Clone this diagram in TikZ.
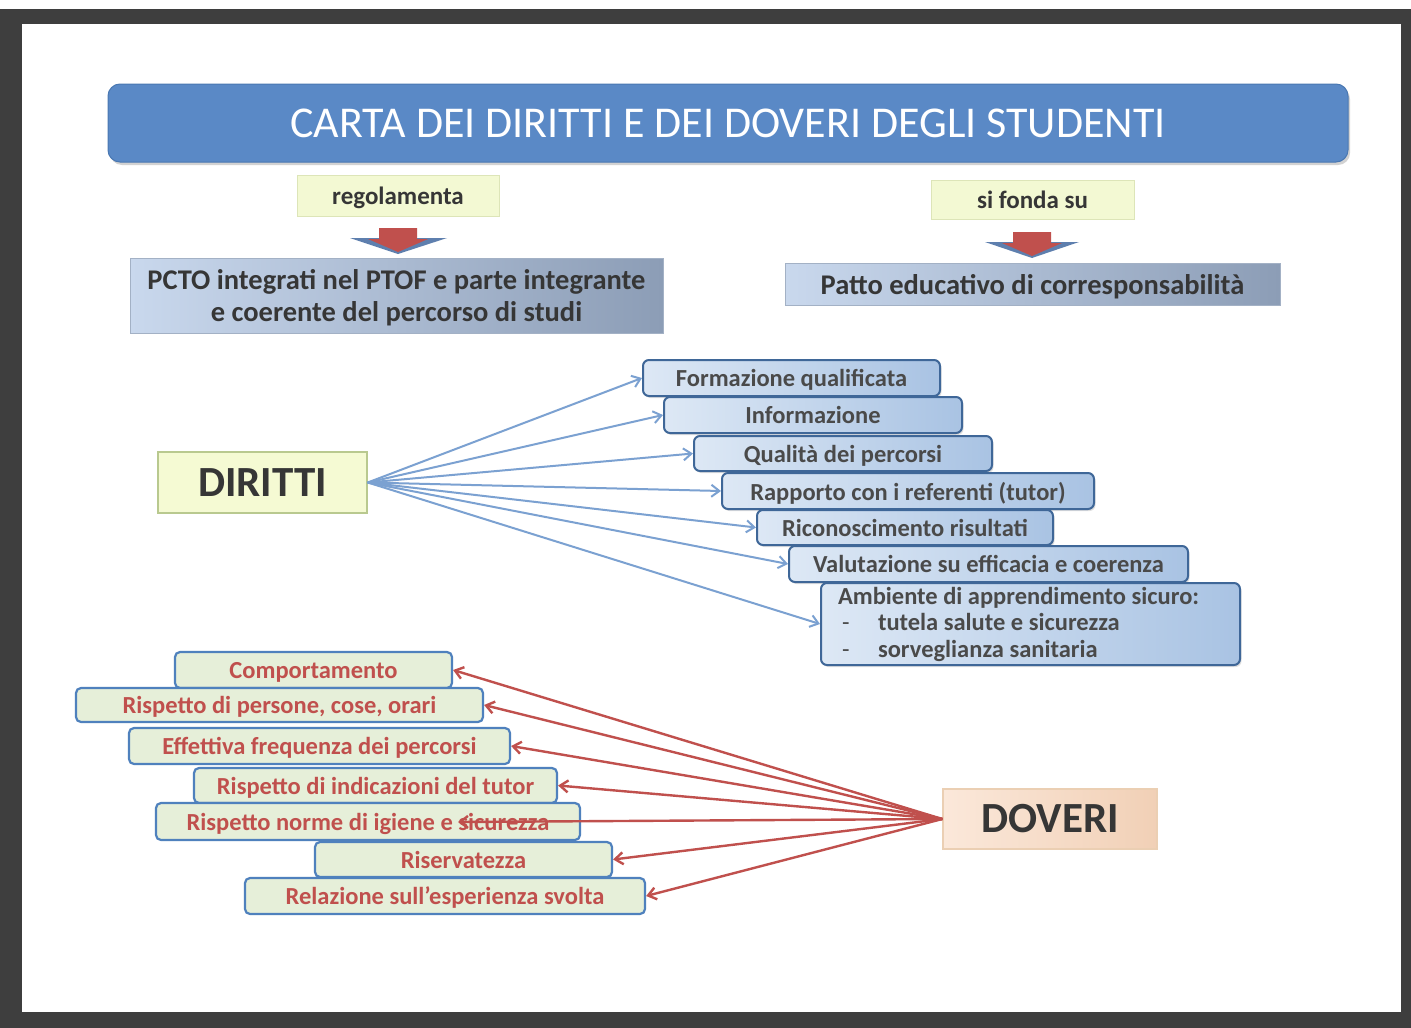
\documentclass[tikz,border=0pt]{standalone}
\usepackage{fontspec}
\setmainfont{Carlito}
\usetikzlibrary{arrows.meta,shadows}
\definecolor{framegray}{HTML}{3E3E3E}
\definecolor{titlefill}{HTML}{5A89C6}
\definecolor{titledraw}{HTML}{4A78B2}
\definecolor{lblfill}{HTML}{F3F9D3}
\definecolor{lbldraw}{HTML}{DDE5B8}
\definecolor{dirfill}{HTML}{F5FAD3}
\definecolor{dirdraw}{HTML}{B9C98F}
\definecolor{pctoL}{HTML}{C9D8ED}
\definecolor{pctoR}{HTML}{8C9DB6}
\definecolor{rbL}{HTML}{DDE8F5}
\definecolor{rbR}{HTML}{A9C3E3}
\definecolor{rbdraw}{HTML}{3F6798}
\definecolor{lbfill}{HTML}{E6EFD9}
\definecolor{lbdraw}{HTML}{4F81BD}
\definecolor{dovL}{HTML}{FBE8DA}
\definecolor{dovR}{HTML}{F1D0B6}
\definecolor{dovdraw}{HTML}{EBCFB3}
\definecolor{bluearrow}{HTML}{7BA1D1}
\definecolor{redarrow}{HTML}{C0504D}
\definecolor{darktext}{HTML}{363636}
\definecolor{wingblue}{HTML}{5E7FAE}
\tikzset{
  titlebox/.style={draw=titledraw, line width=1pt, fill=titlefill, rounded corners=12pt,
    text=white, font=\fontsize{44}{50}\selectfont, inner sep=0pt, text depth=0pt,
    drop shadow={opacity=0.35, shadow xshift=2pt, shadow yshift=-3pt}},
  lblbox/.style={draw=lbldraw, line width=0.8pt, fill=lblfill, text=darktext,
    font=\bfseries\fontsize{25}{28}\selectfont, inner sep=0pt, text depth=0pt},
  pctobox/.style={draw=pctoR!80, line width=0.6pt, left color=pctoL, right color=pctoR,
    text=darktext, font=\bfseries\fontsize{28.5}{32}\selectfont, inner sep=0pt, align=center, text depth=0pt},
  bigbox/.style={line width=1.4pt, text=darktext, font=\bfseries\fontsize{43}{48}\selectfont, inner sep=0pt},
  rbox/.style={draw=rbdraw, line width=2pt, rounded corners=6pt, left color=rbL, right color=rbR,
    text=darktext!90, font=\bfseries\fontsize{24.5}{26.5}\selectfont, inner sep=0pt, text depth=0pt,
    drop shadow={opacity=0.25, shadow xshift=1.5pt, shadow yshift=-2pt}},
  lbox/.style={draw=lbdraw, line width=2.2pt, rounded corners=5pt, fill=lbfill,
    text=redarrow, font=\bfseries\fontsize{24.5}{27}\selectfont, inner sep=0pt, text depth=0pt},
  barrow/.style={draw=bluearrow, line width=2pt, -{Straight Barb[length=8pt,width=12pt,line width=2pt]}},
  rarrow/.style={draw=redarrow, line width=2.4pt, -{Straight Barb[length=8pt,width=12pt,line width=2.4pt]}}
}
\begin{document}
\begin{tikzpicture}[x=1pt,y=-1pt]
\useasboundingbox (0,0) rectangle (1411,1028);
% slide frame
\fill[framegray] (0,9) rectangle (1411,1028);
\fill[white] (22,24) rectangle (1401,1012);

% title
\node[titlebox, minimum width=1240pt, minimum height=78pt] (title) at (728,123) {CARTA DEI DIRITTI E DEI DOVERI DEGLI STUDENTI};

% upper labels
\node[lblbox, minimum width=202pt, minimum height=41pt] (reg) at (398,195.5) {regolamenta};
\node[lblbox, minimum width=203pt, minimum height=39pt] (fonda) at (1032.5,199.5) {si fonda su};

% block arrows
\fill[wingblue] (350,238) -- (447,238) -- (398,254) -- cycle;
\fill[redarrow] (379,228) -- (417,228) -- (417,239) -- (428,239) -- (398,252) -- (368,239) -- (379,239) -- cycle;
\fill[wingblue] (985,242) -- (1079,242) -- (1032,258) -- cycle;
\fill[redarrow] (1013,232) -- (1051,232) -- (1051,243) -- (1062,243) -- (1032,256) -- (1002,243) -- (1013,243) -- cycle;

\node[pctobox, minimum width=533pt, minimum height=75pt] (pcto) at (396.5,295.5) {PCTO integrati nel PTOF e parte integrante\\ e coerente del percorso di studi};
\node[pctobox, minimum width=495pt, minimum height=42pt] (patto) at (1032.5,284) {Patto educativo di corresponsabilità};

% DIRITTI / DOVERI
\node[bigbox, draw=dirdraw, fill=dirfill, minimum width=209pt, minimum height=61pt] (dir) at (262.5,482.5) {DIRITTI};
\node[bigbox, draw=dovdraw, left color=dovL, right color=dovR, minimum width=214pt, minimum height=60pt] (dov) at (1050,819) {DOVERI};

% rights
\node[rbox, minimum width=297pt, minimum height=36pt] (r1) at (791.5,378) {Formazione qualificata};
\node[rbox, minimum width=298pt, minimum height=36pt] (r2) at (813,415) {Informazione};
\node[rbox, minimum width=298pt, minimum height=35pt] (r3) at (843,453.5) {Qualità dei percorsi};
\node[rbox, minimum width=372pt, minimum height=36pt] (r4) at (908,491) {Rapporto con i referenti (tutor)};
\node[rbox, minimum width=296pt, minimum height=35pt] (r5) at (905,527.5) {Riconoscimento risultati};
\node[rbox, minimum width=399pt, minimum height=36pt] (r6) at (988.5,564) {Valutazione su efficacia e coerenza};
\node[rbox, text depth=, minimum width=419pt, minimum height=82pt, text width=385pt, align=flush left, inner xsep=17pt] (r7) at (1030.5,624)
  {Ambiente di apprendimento sicuro:\\\makebox[40pt][l]{\hspace{4pt}\mdseries -}tutela salute e sicurezza\\\makebox[40pt][l]{\hspace{4pt}\mdseries -}sorveglianza sanitaria};

\foreach \r in {r1,r2,r3,r4,r5,r6,r7}
  \draw[barrow] (dir.east) -- (\r.west);

% duties
\node[lbox, minimum width=277pt, minimum height=36pt] (l1) at (313.5,670) {Comportamento};
\node[lbox, minimum width=407pt, minimum height=34pt] (l2) at (279.5,705) {Rispetto di persone, cose, orari};
\node[lbox, minimum width=381pt, minimum height=36pt] (l3) at (319.5,746) {Effettiva frequenza dei percorsi};
\node[lbox, minimum width=363pt, minimum height=35pt] (l4) at (375.5,785.5) {Rispetto di indicazioni del tutor};
\node[lbox, minimum width=424pt, minimum height=37pt] (l5) at (368,821.5) {Rispetto norme di igiene e sicurezza};
\node[lbox, minimum width=297pt, minimum height=35pt] (l6) at (463.5,859.5) {Riservatezza};
\node[lbox, minimum width=400pt, minimum height=36pt] (l7) at (445,896) {Relazione sull’esperienza svolta};
\coordinate (l5end) at (458,822);

\foreach \l in {l1,l2,l3,l4,l6,l7}
  \draw[rarrow] (dov.west) -- (\l.east);
\draw[rarrow] (dov.west) -- (l5end);
\end{tikzpicture}
\end{document}
